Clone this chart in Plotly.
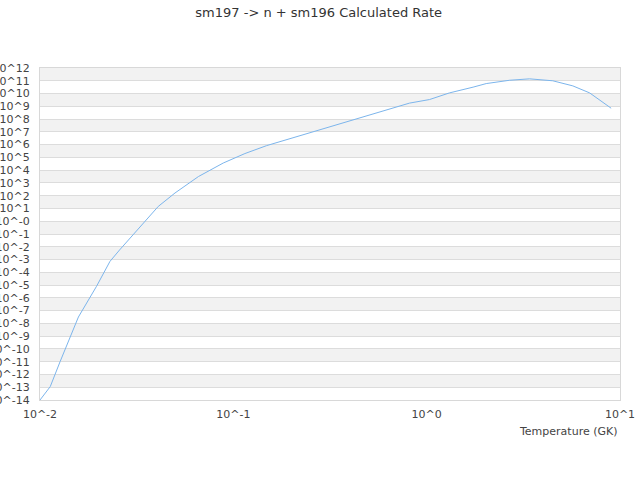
import plotly.graph_objects as go

# temperature (GK) and log10 of the calculated rate
temperature = [0.0100, 0.0113, 0.0127, 0.0143, 0.0158, 0.0196, 0.0230, 0.0258,
               0.0316, 0.0336, 0.0409, 0.0499, 0.0660, 0.0887, 0.1148, 0.1486,
               0.2477, 0.2790, 0.4860, 0.5700, 0.7280, 0.8150, 1.035, 1.312,
               1.738, 2.032, 2.685, 3.405, 4.487, 5.702, 6.966, 9.000]
log_rate = [-14.0, -12.95, -11.0, -9.05, -7.5, -5.1, -3.15, -2.25,
            -0.74, -0.25, 1.16, 2.21, 3.5, 4.56, 5.3, 5.92,
            6.92, 7.12, 8.22, 8.49, 9.0, 9.25, 9.53, 10.05,
            10.5, 10.78, 11.04, 11.15, 11.0, 10.6, 10.05, 8.85]

rate = [10 ** v for v in log_rate]

y_decades = list(range(-14, 13))
y_tick_labels = ["10^-14", "10^-13", "10^-12", "10^-11", "10^-10", "10^-9", "10^-8",
                 "10^-7", "10^-6", "10^-5", "10^-4", "10^-3", "10^-2", "10^-1",
                 "10^-0", "10^1", "10^2", "10^3", "10^4", "10^5", "10^6", "10^7",
                 "10^8", "10^9", "10^10", "10^11", "10^12"]
x_decades = [-2, -1, 0, 1]
x_tick_labels = ["10^-2", "10^-1", "10^0", "10^1"]

fig = go.Figure()
fig.add_trace(go.Scatter(x=temperature, y=rate, mode="lines",
                         line=dict(color="#7cb5ec", width=1),
                         showlegend=False))

# alternating grey bands between decades
for k in y_decades[:-1]:
    if (k - y_decades[0]) % 2 == 1:
        fig.add_hrect(y0=10 ** k, y1=10 ** (k + 1), fillcolor="#f2f2f2",
                      line_width=0, layer="below")

fig.update_layout(
    width=640, height=480,
    margin=dict(l=40, r=20, t=68, b=80, autoexpand=False),
    paper_bgcolor="white", plot_bgcolor="white",
    font=dict(family="DejaVu Sans", size=11, color="#444444"),
    title=dict(text="sm197 -> n + sm196 Calculated Rate", x=0.498, xanchor="center",
               xref="container", y=0.975, yanchor="middle",
               font=dict(size=13, color="#333333")),
)
fig.update_xaxes(type="log", range=[-2, 1], automargin=False,
                 tickvals=[10 ** k for k in x_decades], ticktext=x_tick_labels,
                 showgrid=False, zeroline=False, ticks="", ticklabelstandoff=4,
                 showline=True, linecolor="#d8d8d8", linewidth=1, mirror=True)
fig.update_yaxes(type="log", range=[-14, 12], automargin=False,
                 tickvals=[10 ** k for k in y_decades], ticktext=y_tick_labels,
                 showgrid=True, gridcolor="#dcdcdc", gridwidth=1, zeroline=False,
                 ticks="", ticklabelstandoff=7,
                 showline=True, linecolor="#d8d8d8", linewidth=1, mirror=True)

fig.add_annotation(text="Temperature (GK)", xref="paper", yref="paper",
                   x=1, y=0, xanchor="right", yanchor="top", yshift=-23,
                   showarrow=False, font=dict(size=11, color="#444444"))

# page without body margin, so the figure sits at the window's corner
fig.write_html("out.html", config={"displayModeBar": False},
               post_script="document.body.style.margin='0';")
